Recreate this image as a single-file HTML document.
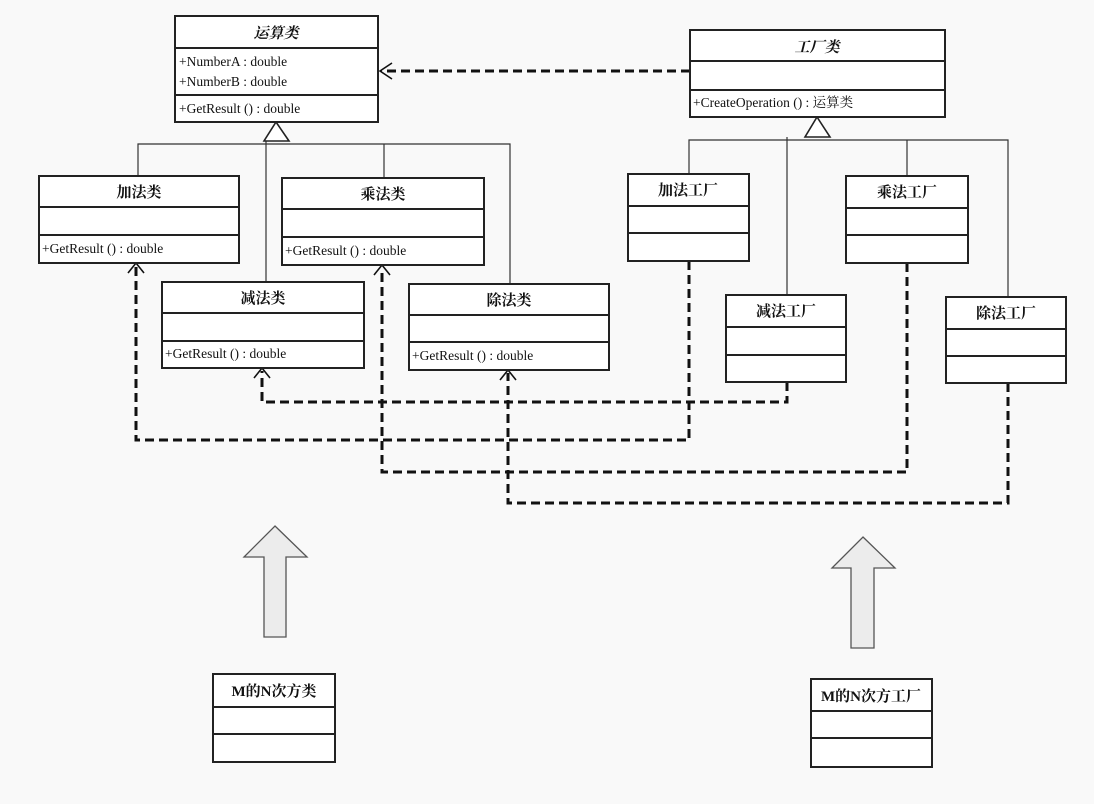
<!DOCTYPE html>
<html><head><meta charset="utf-8"><style>
body{margin:0;background:#f9f9f9}
svg{display:block}
text{font-family:"Liberation Serif","Noto Serif CJK SC","Noto Sans CJK SC",serif;fill:#111}
.t{font-weight:bold;font-size:15px;text-anchor:middle}
.m{font-size:13.5px}
.b{fill:#fff;stroke:#222;stroke-width:2}
.l{stroke:#222;stroke-width:2}
.g{stroke:#333;stroke-width:1.2;fill:none}
.d{stroke:#111;stroke-width:3;fill:none;stroke-dasharray:9,5}
.a{stroke:#111;stroke-width:1.6;fill:none}
</style></head><body>
<svg width="1094" height="804" viewBox="0 0 1094 804">
<!-- generalization lines left -->
<polyline class="g" points="138,176 138,144 510,144 510,284"/>
<line class="g" x1="266" y1="141" x2="266" y2="282"/>
<line class="g" x1="384" y1="144" x2="384" y2="178"/>
<polygon points="276,122 264,141 289,141" fill="#fff" stroke="#222" stroke-width="1.6"/>
<!-- generalization right -->
<polyline class="g" points="689,174 689,140 1008,140 1008,297"/>
<line class="g" x1="787" y1="137" x2="787" y2="295"/>
<line class="g" x1="907" y1="140" x2="907" y2="176"/>
<polygon points="817,117 805,137 830,137" fill="#fff" stroke="#222" stroke-width="1.6"/>

<!-- dashed dependencies -->
<line class="d" x1="690" y1="71" x2="381" y2="71"/>
<polyline class="a" points="392,63 380,71 392,79"/>
<polyline class="d" points="787,382 787,402 262,402 262,371"/>
<polyline class="d" points="689,261 689,440 136,440 136,266"/>
<polyline class="d" points="907,263 907,472 382,472 382,268"/>
<polyline class="d" points="1008,383 1008,503 508,503 508,373"/>
<polyline class="a" points="254,378 262,368 270,378"/>
<polyline class="a" points="128,273 136,263 144,273"/>
<polyline class="a" points="374,275 382,265 390,275"/>
<polyline class="a" points="500,380 508,370 516,380"/>

<!-- 运算类 -->
<rect class="b" x="175" y="16" width="203" height="106"/>
<line class="l" x1="175" y1="48" x2="378" y2="48"/>
<line class="l" x1="175" y1="95" x2="378" y2="95"/>
<text class="t" x="276" y="38" font-style="italic">运算类</text>
<text class="m" x="179" y="66">+NumberA  : double</text>
<text class="m" x="179" y="86">+NumberB  : double</text>
<text class="m" x="179" y="113">+GetResult () : double</text>

<!-- 工厂类 -->
<rect class="b" x="690" y="30" width="255" height="87"/>
<line class="l" x1="690" y1="61" x2="945" y2="61"/>
<line class="l" x1="690" y1="90" x2="945" y2="90"/>
<text class="t" x="817" y="52" font-style="italic">工厂类</text>
<text class="m" x="693" y="107">+CreateOperation () : 运算类</text>

<!-- subclasses -->
<rect class="b" x="39" y="176" width="200" height="87"/>
<line class="l" x1="39" y1="207" x2="239" y2="207"/><line class="l" x1="39" y1="235" x2="239" y2="235"/>
<text class="t" x="139" y="197">加法类</text>
<text class="m" x="42" y="253">+GetResult () : double</text>

<rect class="b" x="282" y="178" width="202" height="87"/>
<line class="l" x1="282" y1="209" x2="484" y2="209"/><line class="l" x1="282" y1="237" x2="484" y2="237"/>
<text class="t" x="383" y="199">乘法类</text>
<text class="m" x="285" y="255">+GetResult () : double</text>

<rect class="b" x="162" y="282" width="202" height="86"/>
<line class="l" x1="162" y1="313" x2="364" y2="313"/><line class="l" x1="162" y1="341" x2="364" y2="341"/>
<text class="t" x="263" y="303">减法类</text>
<text class="m" x="165" y="358">+GetResult () : double</text>

<rect class="b" x="409" y="284" width="200" height="86"/>
<line class="l" x1="409" y1="315" x2="609" y2="315"/><line class="l" x1="409" y1="342" x2="609" y2="342"/>
<text class="t" x="509" y="305">除法类</text>
<text class="m" x="412" y="360">+GetResult () : double</text>

<!-- factories -->
<rect class="b" x="628" y="174" width="121" height="87"/>
<line class="l" x1="628" y1="206" x2="749" y2="206"/><line class="l" x1="628" y1="233" x2="749" y2="233"/>
<text class="t" x="688" y="195">加法工厂</text>

<rect class="b" x="846" y="176" width="122" height="87"/>
<line class="l" x1="846" y1="208" x2="968" y2="208"/><line class="l" x1="846" y1="235" x2="968" y2="235"/>
<text class="t" x="907" y="197">乘法工厂</text>

<rect class="b" x="726" y="295" width="120" height="87"/>
<line class="l" x1="726" y1="327" x2="846" y2="327"/><line class="l" x1="726" y1="355" x2="846" y2="355"/>
<text class="t" x="786" y="316">减法工厂</text>

<rect class="b" x="946" y="297" width="120" height="86"/>
<line class="l" x1="946" y1="329" x2="1066" y2="329"/><line class="l" x1="946" y1="356" x2="1066" y2="356"/>
<text class="t" x="1006" y="318">除法工厂</text>

<!-- big arrows -->
<polygon points="275,526 307,557 286,557 286,637 264,637 264,557 244,557" fill="#ececec" stroke="#555" stroke-width="1.3"/>
<polygon points="863,537 895,568 874,568 874,648 851,648 851,568 832,568" fill="#ececec" stroke="#555" stroke-width="1.3"/>

<!-- bottom boxes -->
<rect class="b" x="213" y="674" width="122" height="88"/>
<line class="l" x1="213" y1="707" x2="335" y2="707"/><line class="l" x1="213" y1="734" x2="335" y2="734"/>
<text class="t" x="274" y="696" font-size="13.5">M的N次方类</text>

<rect class="b" x="811" y="679" width="121" height="88"/>
<line class="l" x1="811" y1="711" x2="932" y2="711"/><line class="l" x1="811" y1="738" x2="932" y2="738"/>
<text class="t" x="871" y="701" font-size="13.5">M的N次方工厂</text>
</svg>
</body></html>
